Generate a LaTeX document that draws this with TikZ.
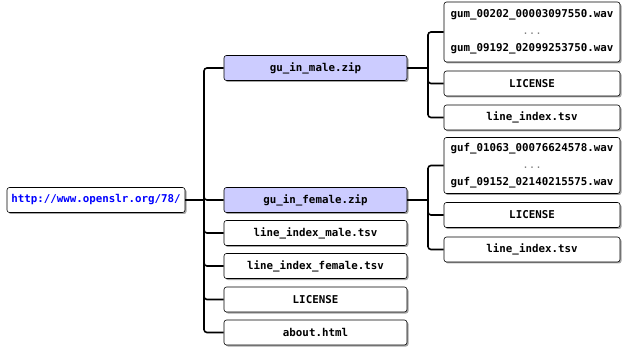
\documentclass[tikz,border=0pt]{standalone}
\usepackage{fontspec}
\setmonofont{DejaVu Sans Mono}
\usetikzlibrary{shadows}
\tikzset{
    filebox/.style={rectangle, rounded corners=2.5pt, draw=black, line width=0.6pt, fill=white,
        minimum width=183pt, minimum height=25pt, inner sep=2pt, align=center,
        font=\ttfamily\bfseries\fontsize{10.8}{16.8}\selectfont,
        drop shadow={shadow xshift=1.5pt, shadow yshift=-1.5pt, fill=gray!70, opacity=1}},
    archivebox/.style={filebox, fill=blue!20},
    rootbox/.style={filebox, minimum width=178pt, text=blue},
    leafbox/.style={filebox, minimum width=176pt},
    treeedge/.style={line width=1.6pt, rounded corners=3pt}
}

\begin{document}
\begin{tikzpicture}[x=1pt, y=-1pt]
    \useasboundingbox (0,0) rectangle (626,347);

    % Download root and its contents
    \node[rootbox] (root) at (96,200) {http://www.openslr.org/78/};
    \node[archivebox] (male) at (315.5,68) {gu\_in\_male.zip};
    \node[archivebox] (female) at (315.5,200) {gu\_in\_female.zip};
    \node[filebox] (idxm) at (315.5,233) {line\_index\_male.tsv};
    \node[filebox] (idxf) at (315.5,266) {line\_index\_female.tsv};
    \node[filebox] (lic) at (315.5,299.5) {LICENSE};
    \node[filebox] (about) at (315.5,332.5) {about.html};

    % Contents of the male archive
    \node[leafbox, minimum height=60pt] (mwav) at (532,32) {gum\_00202\_00003097550.wav\\{\mdseries\color{gray}...}\\gum\_09192\_02099253750.wav};
    \node[leafbox] (mlic) at (532,83.5) {LICENSE};
    \node[leafbox] (midx) at (532,117.5) {line\_index.tsv};

    % Contents of the female archive
    \node[leafbox, minimum height=56pt] (fwav) at (532,165.5) {guf\_01063\_00076624578.wav\\{\mdseries\color{gray}...}\\guf\_09152\_02140215575.wav};
    \node[leafbox] (flic) at (532,215) {LICENSE};
    \node[leafbox] (fidx) at (532,249.5) {line\_index.tsv};

    % Tree connectors
    \coordinate (rootfork) at (204,200);
    \draw[treeedge] (root.east) -- (rootfork);
    \foreach \c in {male,female,idxm,idxf,lic,about}
        \draw[treeedge] (rootfork) |- (\c.west);

    \coordinate (malefork) at (428,68);
    \draw[treeedge] (male.east) -- (malefork);
    \foreach \c in {mwav,mlic,midx}
        \draw[treeedge] (malefork) |- (\c.west);

    \coordinate (femalefork) at (428,200);
    \draw[treeedge] (female.east) -- (femalefork);
    \foreach \c in {fwav,flic,fidx}
        \draw[treeedge] (femalefork) |- (\c.west);
\end{tikzpicture}
\end{document}
